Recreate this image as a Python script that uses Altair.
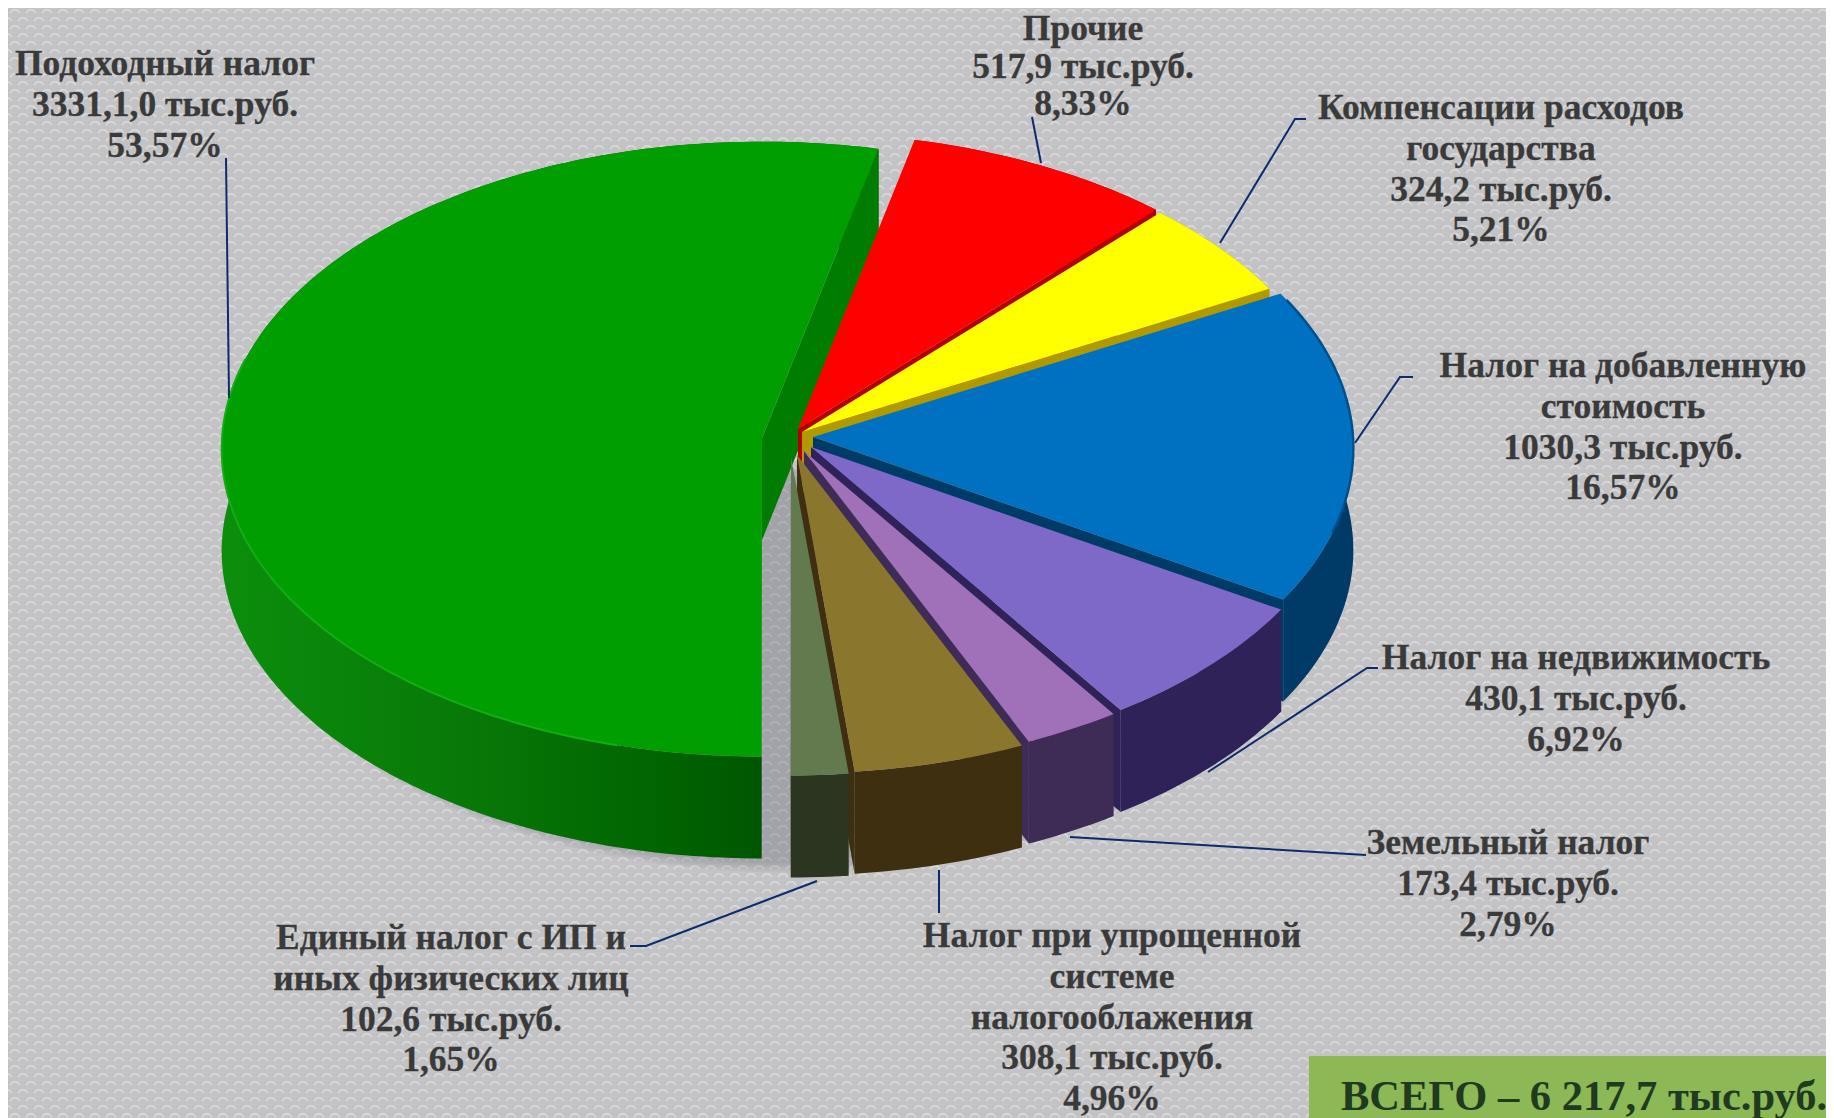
import math
import altair as alt

# --- data (clockwise from the first slice)
NAMES = ["Прочие", "Компенсации расходов государства", "Налог на добавленную стоимость",
         "Налог на недвижимость", "Земельный налог", "Налог при упрощенной системе налогооблажения",
         "Единый налог с ИП и иных физических лиц", "Подоходный налог"]
VALUES = [517.9, 324.2, 1030.3, 430.1, 173.4, 308.1, 102.6, 3331.1]
LABELS = [
    ["Прочие", "517,9 тыс.руб.", "8,33%"],
    ["Компенсации расходов", "государства", "324,2 тыс.руб.", "5,21%"],
    ["Налог на добавленную", "стоимость", "1030,3 тыс.руб.", "16,57%"],
    ["Налог на недвижимость", "430,1 тыс.руб.", "6,92%"],
    ["Земельный налог", "173,4 тыс.руб.", "2,79%"],
    ["Налог при упрощенной", "системе", "налогооблажения", "308,1 тыс.руб.", "4,96%"],
    ["Единый налог с ИП и", "иных физических лиц", "102,6 тыс.руб.", "1,65%"],
    ["Подоходный налог", "3331,1,0 тыс.руб.", "53,57%"],
]
TOTAL_TEXT = "ВСЕГО – 6 217,7 тыс.руб."

# --- style and layout
TOP = ["#ff0000", "#ffff00", "#0070c0", "#7e68c8", "#a070b8", "#8b762d", "#637a4e", "#009e00"]
WALL = ["#b00000", "#b09a00", "#003a66", "#2e2258", "#3e2c56", "#3e2f10", "#2c3520", "#007c00"]
CENTERS = [(798, 429), (802, 432), (813, 437), (811, 447), (804, 451), (797, 455), (791, 457), (762, 438)]
LABEL_POS = [(1083, 29), (1501, 108), (1623, 366), (1576, 658), (1508, 843), (1112, 936), (451, 938), (165, 64)]
LINE_STEP = [37.5, 40.8, 40.8, 40.8, 40.8, 40.8, 40.8, 40.8]
LEADERS = [
    [(1032, 117), (1041, 163)],
    [(1306, 119), (1295, 119), (1220, 243)],
    [(1413, 377), (1400, 377), (1355, 443)],
    [(1378, 668), (1367, 668), (1208, 772)],
    [(1366, 855), (1070, 837)],
    [(939, 870), (939, 913)],
    [(817, 881), (646, 946), (630, 946)],
    [(226, 158), (229, 398)],
]
M = 8
W, H = 1834, 1118
RX, RY, K, DEPTH = 540, 307, 0.036, 102
START = 372.9 - 360


def rim(t, c):
    X, Y = math.sin(math.radians(t)), math.cos(math.radians(t))
    f = 1 / (1 + K * Y)
    return (c[0] + RX * X * f, c[1] - RY * Y * f)


def arc(t0, t1, c):
    n = max(2, int(abs(t1 - t0)) + 1)
    return [rim(t0 + (t1 - t0) * i / n, c) for i in range(n + 1)]


def down(pts):
    return [(x, y + DEPTH) for x, y in pts]


def px(pts):
    return [[round(x - M, 1), round(y - M, 1)] for x, y in pts]


def poly(pts, fill):
    ring = px(pts + pts[:1])
    return {"type": "Feature", "fill": fill, "geometry": {"type": "Polygon", "coordinates": [ring]}}


def line(pts):
    return {"type": "Feature", "geometry": {"type": "LineString", "coordinates": px(pts)}}


PROJ = dict(type="identity", scale=1, translate=[0, 0])

total = sum(VALUES)
spans, t = [], START
for v in VALUES:
    spans.append((t, t + v / total * 360))
    t += v / total * 360

# slices are painted back to front; the big one goes first
order = [7, 0, 1, 2, 3, 4, 5, 6]
flat = []
green_wall = None
for i in order:
    t0, t1 = spans[i]
    c = CENTERS[i]
    edge = arc(t0, t1, c)
    if i == 7:
        green_wall = poly(edge + down(edge)[::-1], "x")
    else:
        flat.append(poly(edge + down(edge)[::-1], WALL[i]))
    end = [c, rim(t1, c)]
    flat.append(poly(end + down(end)[::-1], WALL[i]))
    flat.append(poly([c] + edge, TOP[i]))

# backdrop texture: small repeated arcs
tex = []
for row, y in enumerate(range(3, H, 8)):
    shift = 8 if row % 2 else 0
    for x in range(shift - 8, W + 8, 16):
        tex.append([[x - 6 - M, y + 2 - M], [x - 3 - M, y - 1 - M], [x + 1 - M, y - 1 - M], [x + 4 - M, y + 2 - M]])
texture = {"type": "Feature", "geometry": {"type": "MultiLineString", "coordinates": tex}}

# soft shadow under the front of the pie
shadow = []
for s in range(1, 7):
    pts = arc(75, 285, (790, 440 + DEPTH + s * 2))
    pts = [(790 + (x - 790) * (1 + s * 0.004), y) for x, y in pts]
    shadow.append(poly(pts, "#55555f"))

text_rows = []
for lines, (x, y0), step in zip(LABELS, LABEL_POS, LINE_STEP):
    for j, s in enumerate(lines):
        text_rows.append({"x": x - M, "y": y0 + j * step - M, "t": s})

green_grad = alt.LinearGradient(
    gradient="linear", x1=0, x2=1, y1=0, y2=0,
    stops=[alt.GradientStop(offset=0, color="#0c8e0c"), alt.GradientStop(offset=0.35, color="#087a08"),
           alt.GradientStop(offset=0.7, color="#006200"), alt.GradientStop(offset=0.94, color="#004a00"),
           alt.GradientStop(offset=1, color="#005200")])

layers = [
    alt.Chart(alt.Data(values=[texture])).mark_geoshape(filled=False, stroke="#dedee0", strokeWidth=1.3).project(**PROJ),
    alt.Chart(alt.Data(values=shadow)).mark_geoshape(fill="#55555f", opacity=0.05).project(**PROJ),
    alt.Chart(alt.Data(values=[green_wall])).mark_geoshape(fill=green_grad).project(**PROJ),
    alt.Chart(alt.Data(values=flat)).mark_geoshape(strokeWidth=0).encode(fill=alt.Fill("fill:N", scale=None)).project(**PROJ),
    alt.Chart(alt.Data(values=[line(arc(195, 285, CENTERS[7]))])).mark_geoshape(
        filled=False, stroke="#14ad14", strokeWidth=2).project(**PROJ),
    alt.Chart(alt.Data(values=[line(arc(63, 108, CENTERS[2]))])).mark_geoshape(
        filled=False, stroke="#00508c", strokeWidth=2.5).project(**PROJ),
    alt.Chart(alt.Data(values=[line(p) for p in LEADERS])).mark_geoshape(
        filled=False, stroke="#0c2a6e", strokeWidth=2).project(**PROJ),
    alt.Chart(alt.Data(values=[poly([(1309, 1056), (W + 2, 1056), (W + 2, H + 2), (1309, H + 2)], "#8cb856")])).mark_geoshape(
        fill="#8cb856", strokeWidth=0).project(**PROJ),
    alt.Chart(alt.Data(values=text_rows)).mark_text(
        font="Liberation Serif", fontWeight="bold", fontSize=35.5, color="#3a3a3a", stroke="#3a3a3a", strokeWidth=0.3,
        baseline="middle", align="center"
    ).encode(x=alt.X("x:Q", scale=None, axis=None), y=alt.Y("y:Q", scale=None, axis=None), text="t:N"),
    alt.Chart(alt.Data(values=[{"x": 1584 - M, "y": 1097 - M, "t": TOTAL_TEXT}])).mark_text(
        font="Liberation Serif", fontWeight="bold", fontSize=42.5, color="#1f3a1f", baseline="middle", align="center"
    ).encode(x=alt.X("x:Q", scale=None, axis=None), y=alt.Y("y:Q", scale=None, axis=None), text="t:N"),
]

chart = alt.layer(*layers).properties(
    width=W - 2 * M, height=H - M, background="#c3c3c6", padding=0,
    autosize=alt.AutoSizeParams(type="none"),
).configure_view(stroke=None)

chart.save("out.html", embed_options={"renderer": "svg", "actions": False})
